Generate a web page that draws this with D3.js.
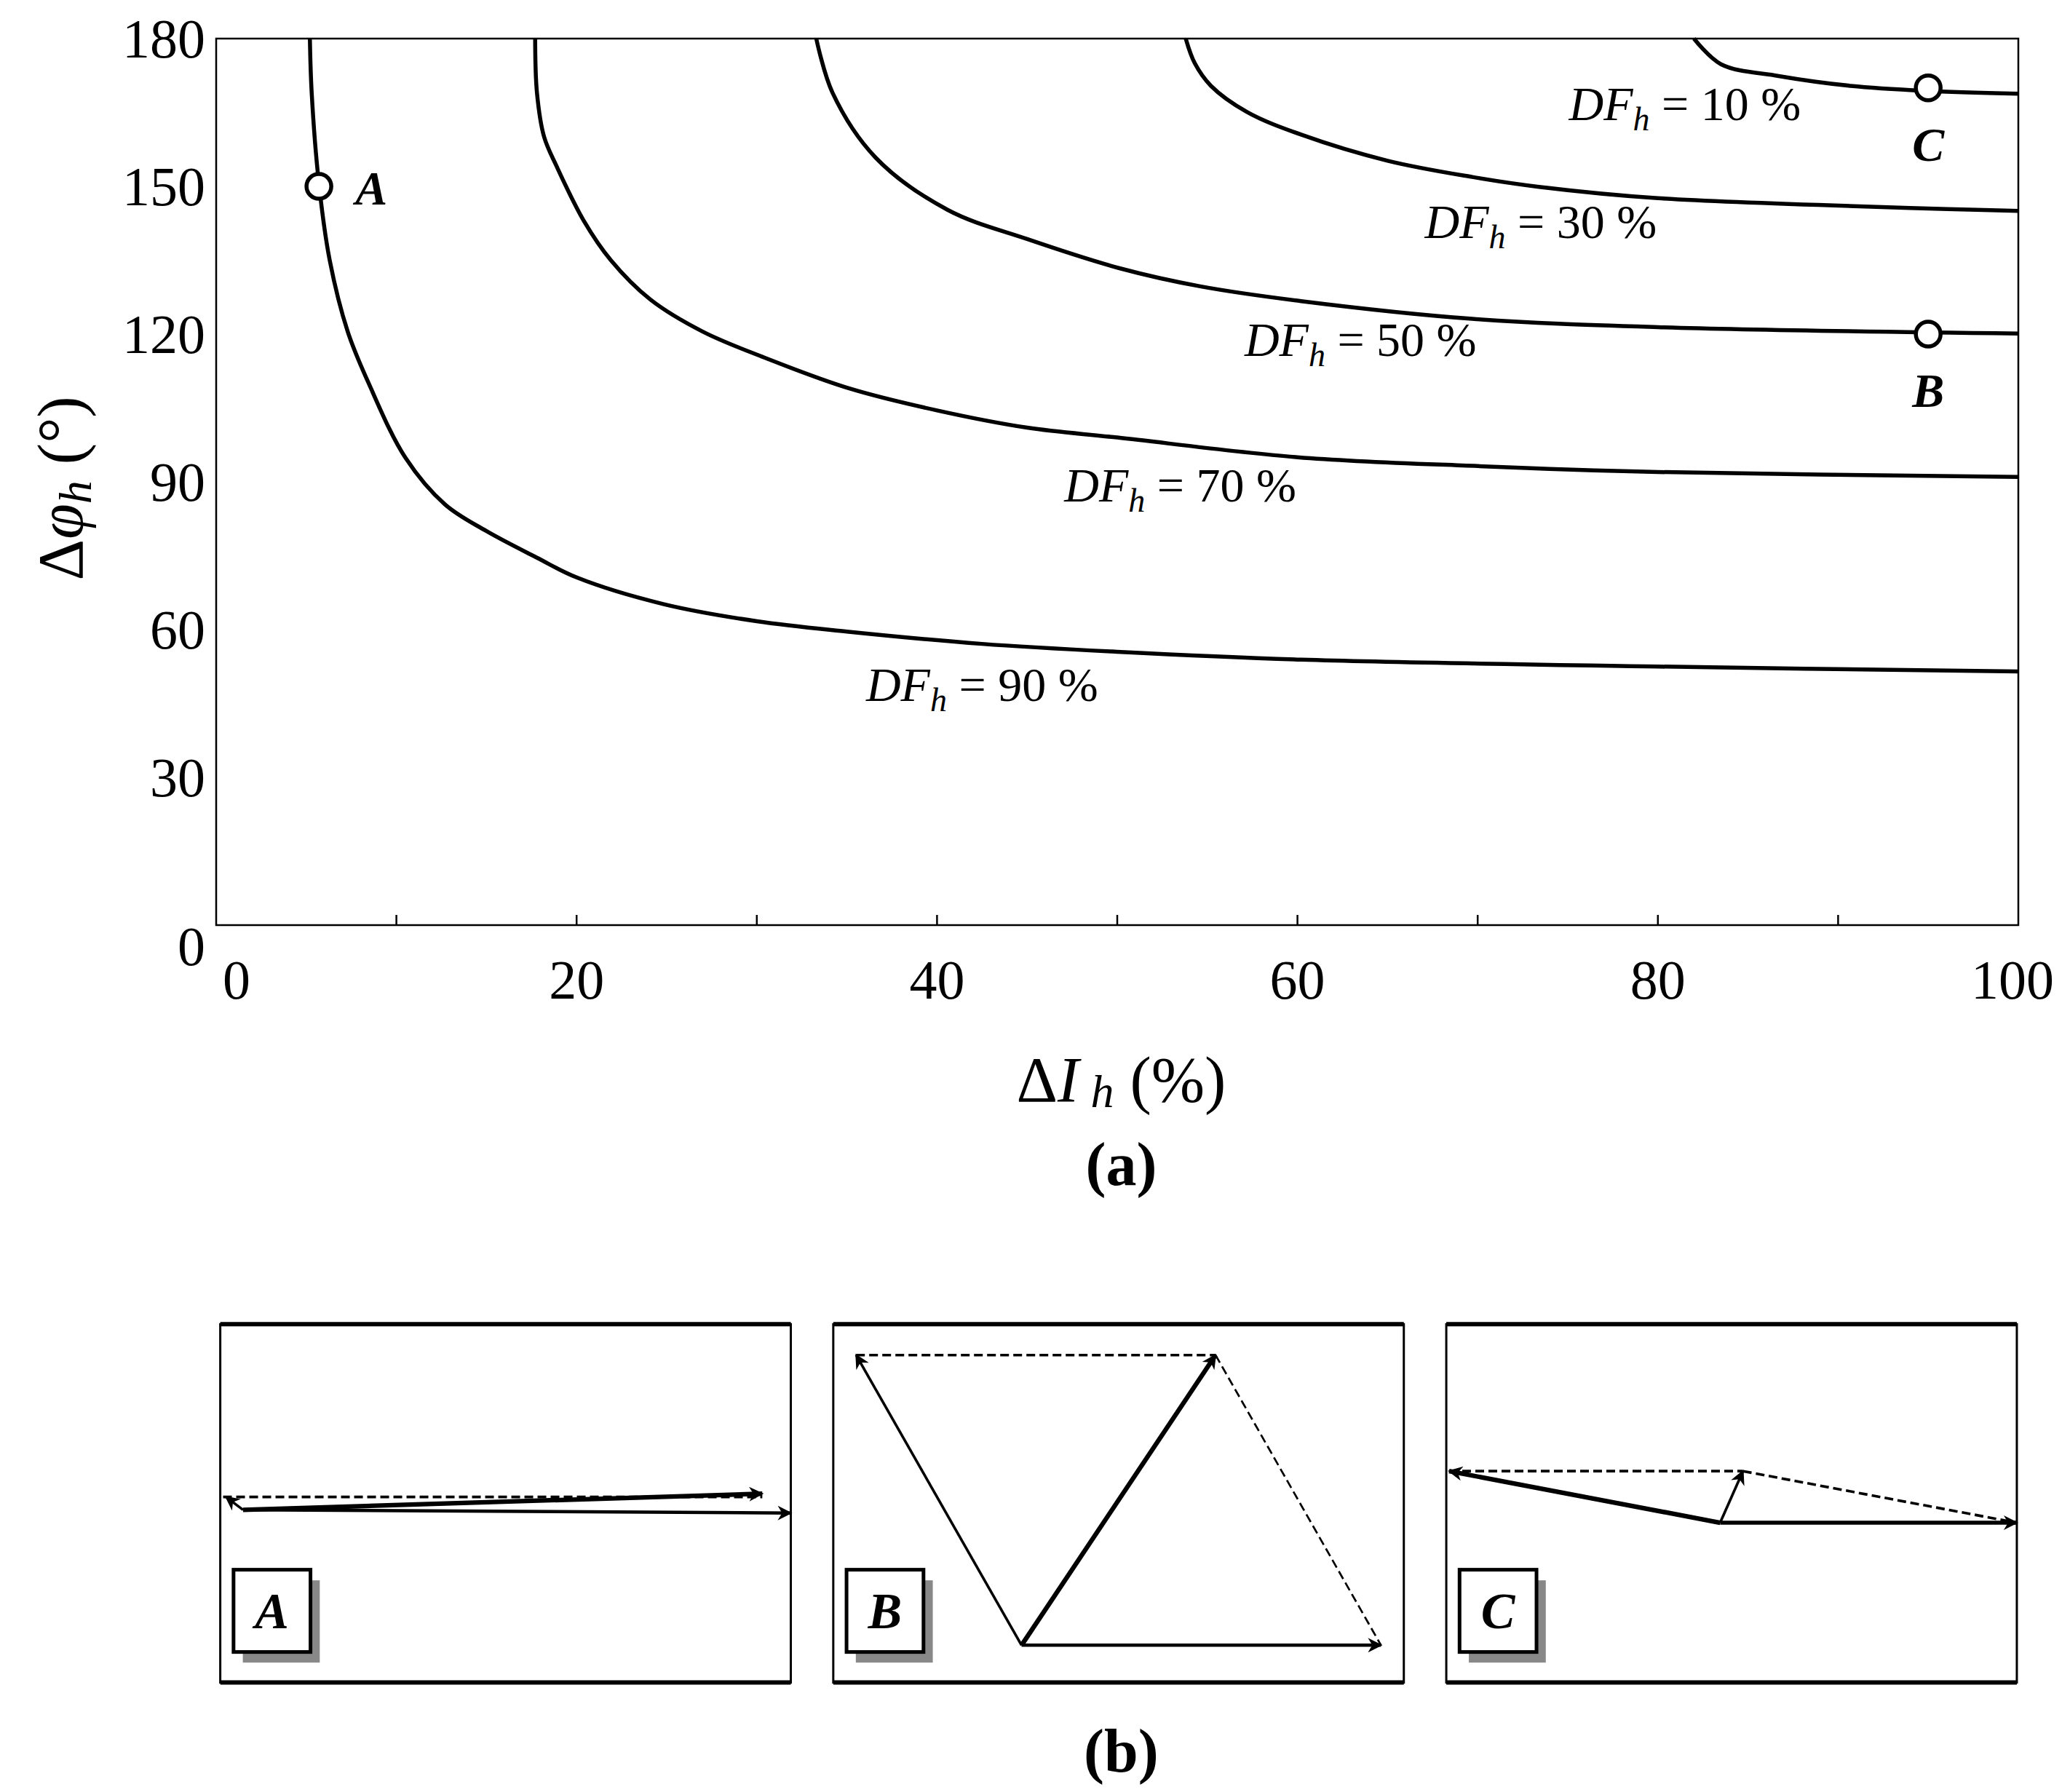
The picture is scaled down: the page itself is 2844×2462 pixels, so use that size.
<!DOCTYPE html>
<html><head><meta charset="utf-8">
<script src="https://cdn.jsdelivr.net/npm/d3@7"></script>
<style>body{margin:0;background:#fff}</style></head>
<body><svg id="c" width="2844" height="2462"></svg>
<script>
// ---- data ----
const curve90 = [[5.2,180],[5.3,169],[5.7,150.6],[6.3,135],[7.3,120.5],[8.5,109.7],[10.5,94.9],[12.7,85.4],[15,80],[17.8,74.6],[20,70.6],[24.8,65.2],[30,61.7],[35,59.6],[42.5,57.1],[50,55.5],[60.2,53.9],[80,52.5],[100,51.5]];
const curve70 = [[17.7,180],[17.8,169],[18.2,160],[18.9,154],[20.4,143],[21.9,135],[24.1,127],[27,120.5],[30.3,115.4],[35.1,109],[40,104.5],[45,101],[50,99],[60,95],[70,93.2],[80,92],[100,91]];
const curve50 = [[33.3,180],[34.2,169],[36.6,155.8],[40.6,145.2],[45,139.3],[50.2,133.3],[54.6,129.7],[60.2,126.7],[69.7,123.1],[80,121.4],[100,120.1]];
const curve30 = [[53.8,180],[54.3,175],[55.2,170.4],[57.2,165.1],[60.2,160.5],[65,155.2],[69.7,151.9],[73.4,149.9],[80,147.6],[100,145]];
const curve10 = [[82,180],[83.5,174.8],[86.7,172.4],[90.7,170.4],[94.8,169.4],[100,168.8]];
const curveLabels = [["10",81.5,163.5],["30",73.5,139.5],["50",63.5,115.5],["70",53.5,86],["90",42.5,45.5]];
const points = [["A",5.7,150],["B",95,120],["C",95,170]];
const xTicks = [0,20,40,60,80,100];
const yTicks = [0,30,60,90,120,150,180];
// phasor panels (local units 0..100 wide, 0..100 tall; y down)
const panels = ["A","B","C"];
const vecA = [{x1:4,y1:52,x2:95,y2:47,w:3.5,dash:false},{x1:4,y1:52,x2:100,y2:53,w:2.5,dash:false},{x1:4,y1:52,x2:1,y2:48,w:2,dash:false},{x1:0.5,y1:48,x2:95,y2:48,w:2,dash:true,noHead:true}];
const vecB = [{x1:33,y1:94,x2:4,y2:4,w:2,dash:false},{x1:33,y1:94,x2:67,y2:4,w:3.5,dash:false},{x1:33,y1:94,x2:96,y2:94,w:2.5,dash:false},{x1:4,y1:4,x2:67,y2:4,w:2,dash:true,noHead:true},{x1:67,y1:4,x2:96,y2:94,w:1.5,dash:true,noHead:true}];
const vecC = [{x1:48,y1:56,x2:0.5,y2:40,w:3.5,dash:false},{x1:48,y1:56,x2:52,y2:40,w:2,dash:false},{x1:48,y1:56,x2:100,y2:56,w:3,dash:false},{x1:0.5,y1:40,x2:52,y2:40,w:2,dash:true,noHead:true},{x1:52,y1:40,x2:100,y2:56,w:2,dash:true,noHead:true}];
const vecs = [vecA,vecB,vecC];

// ---- drawing ----
const S = 1.823;
const svg = d3.select("#c");
const F = "Liberation Serif, Times New Roman, serif";
const L = 297, R = 2773, T = 53, B = 1271;
const x = d3.scaleLinear().domain([0,100]).range([L,R]);
const y = d3.scaleLinear().domain([0,180]).range([B,T]);

svg.append("rect").attr("x",L).attr("y",T).attr("width",R-L).attr("height",B-T)
  .attr("fill","none").attr("stroke","#000").attr("stroke-width",2.5);
// minor ticks bottom
svg.append("g").selectAll("line").data(d3.range(10,100,10)).join("line")
  .attr("x1",d=>x(d)).attr("x2",d=>x(d)).attr("y1",B).attr("y2",B-14)
  .attr("stroke","#000").attr("stroke-width",2.5);
svg.append("g").selectAll("text").data(xTicks).join("text")
  .attr("x",d=>x(d)+(d===0?28:d===100?-8:0)).attr("y",1372).attr("text-anchor","middle")
  .attr("font-family",F).attr("font-size",76).text(d=>d);
svg.append("g").selectAll("text").data(yTicks).join("text")
  .attr("x",282).attr("y",d=>y(d)+(d===0?55:26)).attr("text-anchor","end")
  .attr("font-family",F).attr("font-size",76).text(d=>d);

const line = d3.line().x(d=>x(d[0])).y(d=>y(d[1])).curve(d3.curveMonotoneX);
const lineV = d3.line().x(d=>x(d[0])).y(d=>y(d[1])).curve(d3.curveCatmullRom);
[curve90,curve70,curve50,curve30,curve10].forEach(c=>{
  svg.append("path").attr("d",lineV(c)).attr("fill","none").attr("stroke","#000").attr("stroke-width",5.5);
});
curveLabels.forEach(([v,cx,cy])=>{
  const t = svg.append("text").attr("x",x(cx)).attr("y",y(cy)).attr("text-anchor","middle")
    .attr("font-family",F).attr("font-size",66);
  t.append("tspan").attr("font-style","italic").text("DF");
  t.append("tspan").attr("font-style","italic").attr("font-size",46).attr("dy",14).text("h");
  t.append("tspan").attr("dy",-14).text(" = "+v+" %");
});
points.forEach(([n,px,py])=>{
  svg.append("circle").attr("cx",x(px)).attr("cy",y(py)).attr("r",17)
    .attr("fill","#fff").attr("stroke","#000").attr("stroke-width",5.5);
  const isA = n==="A";
  svg.append("text").attr("x",isA?x(px)+50:x(px)).attr("y",isA?y(py)+25:(n==="B"?y(py)+100:y(py)+100))
    .attr("text-anchor",isA?"start":"middle").attr("font-family",F).attr("font-size",66)
    .attr("font-style","italic").attr("font-weight","bold").text(n);
});
// axis titles
const xt = svg.append("text").attr("x",845*S).attr("y",830*S).attr("text-anchor","middle")
  .attr("font-family",F).attr("font-size",88);
xt.append("tspan").text("Δ");
xt.append("tspan").attr("font-style","italic").text("I");
xt.append("tspan").attr("font-style","italic").attr("font-size",64).attr("dy",8).text(" h");
xt.append("tspan").attr("dy",-8).text(" (%)");
const yt = svg.append("text").attr("transform",`translate(${62*S},${368*S}) rotate(-90)`)
  .attr("text-anchor","middle").attr("font-family",F).attr("font-size",88);
yt.append("tspan").text("Δ");
yt.append("tspan").attr("font-style","italic").text("φ");
yt.append("tspan").attr("font-style","italic").attr("font-size",64).attr("dy",12).text("h");
yt.append("tspan").attr("dy",-12).text(" (°)");
svg.append("text").attr("x",845*S).attr("y",893*S).attr("text-anchor","middle")
  .attr("font-family",F).attr("font-size",84).attr("font-weight","bold").text("(a)");
svg.append("text").attr("x",845*S).attr("y",1335*S).attr("text-anchor","middle")
  .attr("font-family",F).attr("font-size",84).attr("font-weight","bold").text("(b)");

// phasor panels
const defs = svg.append("defs");
defs.append("marker").attr("id","ah").attr("viewBox","0 0 10 10").attr("refX",9).attr("refY",5)
  .attr("markerWidth",26).attr("markerHeight",20).attr("markerUnits","userSpaceOnUse").attr("orient","auto")
  .append("path").attr("d","M0,0 L10,5 L0,10 L3,5 Z").attr("fill","#000");
const boxX = [166,628,1090], boxW = 430, boxY = 998, boxH = 270;
panels.forEach((p,i)=>{
  const x0 = boxX[i]*S, w = boxW*S, y0 = boxY*S, h = boxH*S;
  const g = svg.append("g");
  g.append("rect").attr("x",x0).attr("y",y0).attr("width",w).attr("height",h)
    .attr("fill","none").attr("stroke","#000").attr("stroke-width",3);
  g.append("line").attr("x1",x0).attr("x2",x0+w).attr("y1",y0).attr("y2",y0).attr("stroke","#000").attr("stroke-width",6);
  g.append("line").attr("x1",x0).attr("x2",x0+w).attr("y1",y0+h).attr("y2",y0+h).attr("stroke","#000").attr("stroke-width",6);
  const px = d3.scaleLinear().domain([0,100]).range([x0,x0+w]);
  const py = d3.scaleLinear().domain([0,100]).range([y0+h*0.05,y0+h*0.95]);
  vecs[i].forEach(v=>{
    g.append("line").attr("x1",px(v.x1)).attr("y1",py(v.y1)).attr("x2",px(v.x2)).attr("y2",py(v.y2))
      .attr("stroke","#000").attr("stroke-width",v.w*1.8).attr("stroke-dasharray",v.dash?"12,6":null)
      .attr("marker-end",v.noHead?null:"url(#ah)");
  });
  const lx = x0+10*S, ly = y0+185*S, lw = 58*S, lh = 62*S;
  g.append("rect").attr("x",lx+7*S).attr("y",ly+8*S).attr("width",lw).attr("height",lh).attr("fill","#888");
  g.append("rect").attr("x",lx).attr("y",ly).attr("width",lw).attr("height",lh).attr("fill","#fff").attr("stroke","#000").attr("stroke-width",5);
  g.append("text").attr("x",lx+lw/2).attr("y",ly+lh/2+24).attr("text-anchor","middle")
    .attr("font-family",F).attr("font-size",70).attr("font-style","italic").attr("font-weight","bold").text(p);
});
</script></body></html>
